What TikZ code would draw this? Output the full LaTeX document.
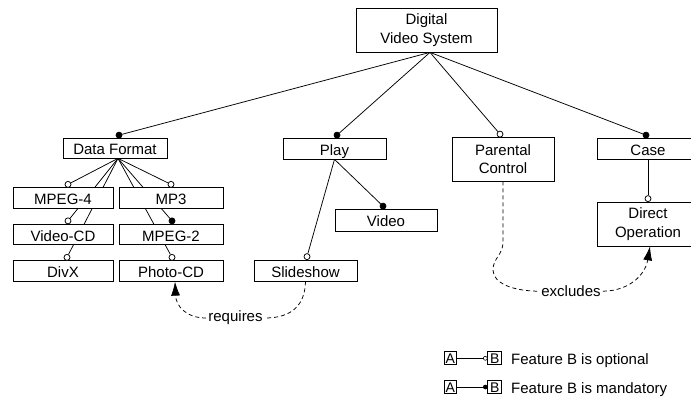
\documentclass[tikz,border=0pt]{standalone}
\usepackage{fontspec}
\setmainfont{Liberation Sans}
\usetikzlibrary{arrows.meta,calc,backgrounds}
\begin{document}
\begin{tikzpicture}[x=1pt,y=-1pt,
  box/.style={draw, fill=white, line width=0.75pt, inner sep=0pt,
    font=\fontsize{15}{18.3}\selectfont},
  one/.style={box, text height=13pt, text depth=0pt},
  two/.style={box, align=center},
  opt/.style={circle, draw, fill=white, line width=0.75pt, inner sep=0pt, minimum size=6pt},
  man/.style={circle, draw, fill=black, line width=0.75pt, inner sep=0pt, minimum size=6pt},
  link/.style={line width=0.75pt},
  dep/.style={line width=0.75pt, dash pattern=on 4pt off 3pt},
  arr/.style={-{Latex[length=14pt,width=9pt]}},
  lbl/.style={font=\fontsize{15}{18}\selectfont, inner sep=2pt},
  lgbox/.style={draw, line width=0.75pt, inner sep=0pt, minimum height=13pt,
    font=\fontsize{14}{16}\selectfont, text height=10pt, text depth=0pt},
  lgopt/.style={circle, draw, fill=white, line width=0.6pt, inner sep=0pt, minimum size=4pt},
  lgman/.style={circle, draw, fill=black, line width=0.6pt, inner sep=0pt, minimum size=4pt}
]
\useasboundingbox (0,0) rectangle (691,399);

% feature boxes
\node[two, minimum width=141pt, minimum height=44pt] (dvs) at (426.5,30) {Digital\\Video System};
\node[one, minimum width=104pt, minimum height=20pt] (df) at (115,148) {Data Format};
\node[one, minimum width=103pt, minimum height=21pt] (play) at (334.5,148.5) {Play};
\node[two, minimum width=102pt, minimum height=44pt] (pc) at (503,159) {Parental\\Control};
\node[one, minimum width=102pt, minimum height=21pt] (case) at (648,148.5) {Case};

\node[one, minimum width=100pt, minimum height=20.5pt] (m4) at (63,198) {MPEG-4};
\node[one, minimum width=100pt, minimum height=20.5pt] (vcd) at (63,234.5) {Video-CD};
\node[one, minimum width=100pt, minimum height=20.5pt] (divx) at (63,271) {DivX};
\node[one, minimum width=104pt, minimum height=20.5pt] (mp3) at (171,198) {MP3};
\node[one, minimum width=104pt, minimum height=20.5pt] (mp2) at (171,234.5) {MPEG-2};
\node[one, minimum width=104pt, minimum height=20.5pt] (pcd) at (171,271) {Photo-CD};

\node[one, minimum width=102pt, minimum height=22pt] (video) at (386,220) {Video};
\node[one, minimum width=103pt, minimum height=21pt] (ss) at (305.5,270.5) {Slideshow};
\node[two, minimum width=102pt, minimum height=44pt] (dop) at (648,224) {Direct\\Operation};

% fan-out points
\coordinate (dvsfan) at ($(dvs.south)+(3.5pt,0)$);
\coordinate (dffan) at ($(df.south)+(3pt,0)$);

% optional / mandatory markers
\node[man] (cdf) at ($(df.north)+(4pt,2.5pt)$) {};
\node[man] (cplay) at ($(play.north)+(2.5pt,2.5pt)$) {};
\node[opt] (cpc) at ($(pc.north)+(-3pt,2.5pt)$) {};
\node[man] (ccase) at ($(case.north)+(-2pt,2.5pt)$) {};
\node[opt] (cm4) at ($(m4.north)+(5pt,3pt)$) {};
\node[opt] (cvcd) at ($(vcd.north)+(5pt,3pt)$) {};
\node[opt] (cdivx) at ($(divx.north)+(4pt,3pt)$) {};
\node[opt] (cmp3) at ($(mp3.north)+(0pt,3pt)$) {};
\node[man] (cmp2) at ($(mp2.north)+(1pt,3pt)$) {};
\node[opt] (cpcd) at ($(pcd.north)+(1pt,3pt)$) {};
\node[man] (cvideo) at ($(video.north)+(-3pt,2.5pt)$) {};
\node[opt] (css) at ($(ss.north)+(1.5pt,3pt)$) {};
\node[opt] (cdop) at ($(dop.north)+(0pt,3pt)$) {};

% tree edges, behind the boxes
\begin{scope}[on background layer]
  \draw[link] (dvsfan) -- (cdf);
  \draw[link] (dvsfan) -- (cplay);
  \draw[link] (dvsfan) -- (cpc);
  \draw[link] (dvsfan) -- (ccase);
  \draw[link] (dffan) -- (cm4);
  \draw[link] (dffan) -- (cvcd);
  \draw[link] (dffan) -- (cdivx);
  \draw[link] (dffan) -- (cmp3);
  \draw[link] (dffan) -- (cmp2);
  \draw[link] (dffan) -- (cpcd);
  \draw[link] (play.south) -- (cvideo);
  \draw[link] (play.south) -- (css);
  \draw[link] (case.south) -- (cdop);
\end{scope}

% cross-tree constraints
\node[lbl] (req) at (235.5,318) {requires};
\draw[dep] (ss.south) .. controls (305,305) and (292,318) .. (req.east);
\draw[dep, arr] (req.west) .. controls (186,318) and (176,306) .. ($(pcd.south)+(4pt,0)$);

\node[lbl] (exc) at (571,291.2) {excludes};
\draw[dep] (pc.south) -- (503,242) .. controls (503,255) and (493,258) .. (493,270)
  .. controls (493,284) and (515,291.2) .. (exc.west);
\draw[dep, arr] (exc.east) .. controls (628,291) and (645,276) .. ($(dop.south)+(2pt,0)$);

% legend
\node[lgbox, minimum width=12.7pt] (la1) at (450.3,358.3) {A};
\node[lgbox, minimum width=14pt] (lb1) at (494.7,358.3) {B};
\node[lgopt] (lc1) at ($(lb1.west)+(-2pt,0)$) {};
\draw[line width=0.6pt] (la1) -- (lc1);
\node[font=\fontsize{15}{18}\selectfont, inner sep=0pt, anchor=base west] (lt1) at (511,364) {Feature B is optional};

\node[lgbox, minimum width=12.7pt] (la2) at (450.3,387) {A};
\node[lgbox, minimum width=14pt] (lb2) at (494.7,387) {B};
\node[lgman] (lc2) at ($(lb2.west)+(-2pt,0)$) {};
\draw[line width=0.6pt] (la2) -- (lc2);
\node[font=\fontsize{15}{18}\selectfont, inner sep=0pt, anchor=base west] (lt2) at (511,393) {Feature B is mandatory};
\end{tikzpicture}
\end{document}
